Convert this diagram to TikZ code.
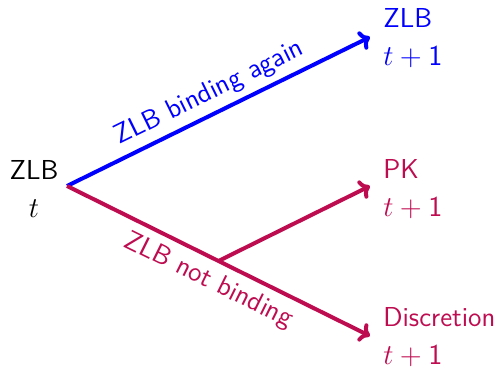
\documentclass[tikz,border=0pt]{standalone}
\usetikzlibrary{arrows.meta,calc}
\definecolor{zblue}{RGB}{0,0,255}
\definecolor{zred}{RGB}{190,12,80}
\begin{document}
\begin{tikzpicture}[x=0.5pt,y=-0.5pt,
  every node/.style={font=\sffamily\fontsize{13.7}{19}\selectfont, inner sep=0pt},
  branch/.style={line width=2pt, -{To[length=5pt,width=10pt]}},
  lbl/.style={align=left, anchor=west}]
\useasboundingbox (0,0) rectangle (495,373);
\coordinate (o) at (67,186);
\coordinate (bz) at (370,37);
\coordinate (bd) at (370,336);
\coordinate (bp) at (370,186);
\node[align=center] (zt) at (34,189) {ZLB\\$t$};
\node[lbl, text=zblue] (zz) at (383,38) {ZLB\\$t+\mathsf{1}$};
\node[lbl, text=zred] (pk) at (383,189) {PK\\$t+\mathsf{1}$};
\node[lbl, text=zred] (dc) at (383,337) {Discretion\\$t+\mathsf{1}$};
\draw[branch, zblue] (o) -- node[sloped, above=3pt, text=zblue] (la) {ZLB binding again} (bz);
\draw[branch, zred] (o) -- node[sloped, below=4pt, text=zred] (lb) {ZLB not binding} (bd);
\coordinate (m) at ($(o)!0.5!(bd)$);
\draw[branch, zred] (m) -- (bp);
\end{tikzpicture}
\end{document}
